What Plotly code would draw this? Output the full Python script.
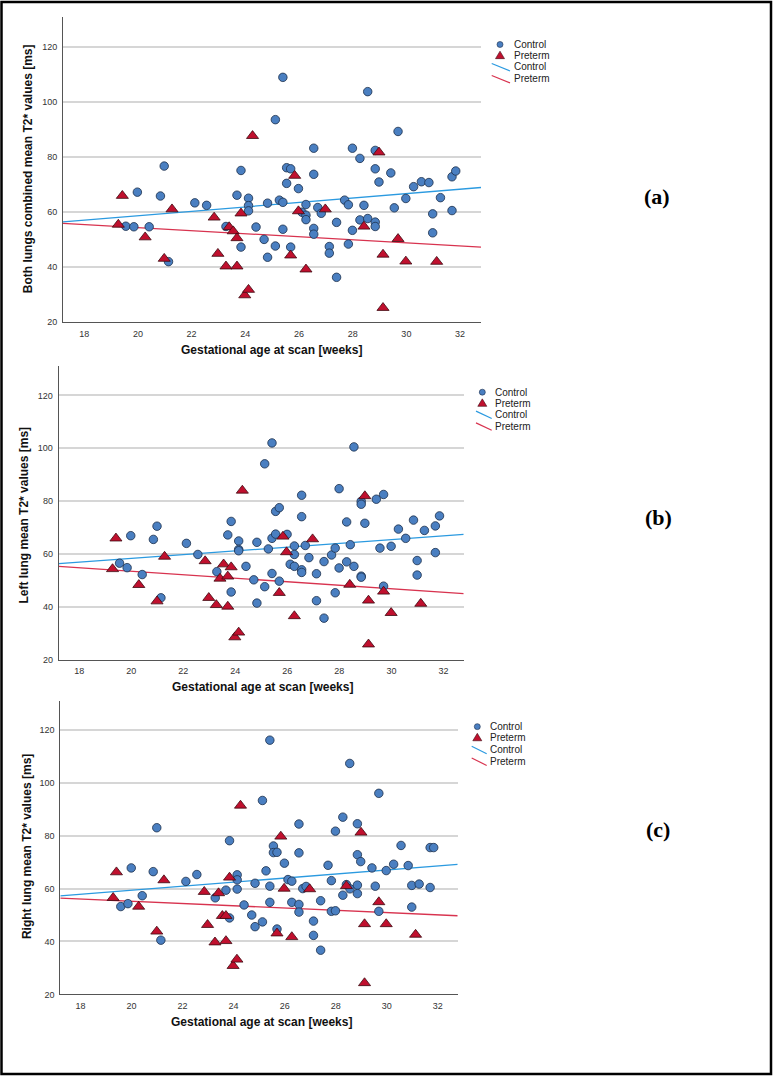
import numpy as np
import plotly.graph_objects as go

# ---------------- DATA ----------------
# Panel (a): Both lungs combined mean T2* values [ms]
ctrl_x_a = [19.55, 19.85, 19.98, 20.42, 20.84, 20.98, 21.14, 22.12, 22.56, 23.28, 23.69, 23.84, 23.84,
            24.12, 24.12, 24.12, 24.40, 24.70, 24.83, 24.83, 25.12, 25.12, 25.27, 25.40, 25.40, 25.40,
            25.54, 25.54, 25.69, 25.69, 25.98, 26.11, 26.26, 26.26, 26.26, 26.55, 26.55, 26.55, 26.55,
            26.70, 26.83, 27.13, 27.13, 27.40, 27.40, 27.70, 27.84, 27.84, 27.99, 27.99, 28.27, 28.27,
            28.42, 28.56, 28.56, 28.84, 28.84, 28.84, 28.84, 28.98, 29.42, 29.55, 29.69, 29.98, 30.27,
            30.56, 30.84, 30.98, 30.98, 31.27, 31.70, 31.70, 31.84]
ctrl_y_a = [54.8, 54.6, 67.2, 54.6, 65.8, 76.7, 41.9, 63.3, 62.4, 54.7, 66.1, 75.1, 47.2,
            65.0, 62.3, 60.4, 54.5, 50.0, 43.5, 63.2, 47.6, 93.6, 64.3, 109.0, 63.5, 53.7,
            76.1, 70.4, 75.7, 47.2, 68.5, 59.9, 62.7, 58.8, 57.2, 83.2, 73.7, 54.0, 51.9,
            61.6, 59.5, 47.4, 45.0, 56.2, 36.2, 64.3, 62.6, 48.3, 83.2, 53.3, 79.5, 57.1,
            62.4, 103.8, 57.6, 82.4, 75.7, 56.3, 54.7, 70.9, 74.2, 61.5, 89.3, 64.9, 69.2,
            71.0, 70.7, 59.3, 52.4, 65.2, 60.5, 72.8, 74.9]
pre_x_a = [19.27, 19.42, 20.27, 20.98, 21.27, 22.84, 22.98, 23.28, 23.40, 23.55, 23.69, 23.69, 23.84,
           23.98, 24.12, 24.27, 25.69, 25.84, 25.98, 26.26, 26.98, 28.42, 28.98, 29.13, 29.13, 29.69,
           29.98, 31.13]
pre_y_a = [55.4, 65.9, 50.8, 43.0, 61.0, 58.0, 44.8, 40.2, 54.5, 53.0, 50.5, 40.2, 59.5,
           29.7, 31.7, 87.7, 44.2, 73.2, 60.3, 39.1, 61.0, 54.7, 81.7, 44.5, 25.1, 50.2,
           42.0, 41.9]

# Panel (b): Left lung mean T2* values [ms]
ctrl_x_b = [19.55, 19.84, 19.98, 20.42, 20.85, 20.99, 21.14, 22.12, 22.56, 23.29, 23.71, 23.84, 23.84,
            24.13, 24.13, 24.13, 24.41, 24.71, 24.83, 24.83, 25.13, 25.13, 25.27, 25.41, 25.41, 25.41,
            25.55, 25.55, 25.69, 25.69, 25.99, 26.11, 26.27, 26.27, 26.27, 26.55, 26.55, 26.55, 26.55,
            26.69, 26.83, 27.12, 27.12, 27.41, 27.41, 27.70, 27.84, 27.84, 27.99, 27.99, 28.28, 28.28,
            28.42, 28.56, 28.56, 28.84, 28.84, 28.84, 28.84, 28.98, 29.42, 29.56, 29.70, 29.70, 29.99,
            30.27, 30.55, 30.85, 30.99, 30.99, 31.27, 31.69, 31.69, 31.85]
ctrl_y_b = [56.5, 54.8, 66.9, 52.2, 65.5, 70.5, 43.4, 64.0, 59.8, 53.3, 67.2, 72.3, 45.6,
            64.9, 61.7, 61.2, 55.3, 50.2, 41.4, 64.4, 47.6, 94.1, 61.9, 102.0, 65.9, 52.6,
            76.1, 67.5, 77.5, 49.7, 67.4, 56.1, 63.0, 59.8, 55.3, 82.2, 74.1, 54.0, 53.0,
            63.2, 58.6, 42.3, 52.5, 57.1, 35.7, 59.6, 62.2, 45.3, 84.7, 54.7, 72.1, 57.0,
            63.5, 100.5, 55.3, 79.9, 78.8, 51.6, 51.2, 71.6, 80.7, 62.2, 82.5, 47.8, 62.9,
            69.4, 65.9, 72.8, 57.5, 52.0, 68.9, 70.6, 60.5, 74.4]
pre_x_b = [19.28, 19.41, 20.29, 20.99, 21.28, 22.84, 22.98, 23.27, 23.41, 23.55, 23.71, 23.71, 23.84,
           23.98, 24.13, 24.27, 25.69, 25.83, 25.97, 26.27, 26.97, 28.40, 28.98, 29.12, 29.12, 29.70,
           29.99, 31.13]
pre_y_b = [54.3, 65.9, 48.3, 42.1, 59.0, 57.3, 43.4, 40.7, 50.7, 56.1, 51.5, 40.1, 55.0,
           28.5, 30.3, 84.0, 45.3, 66.6, 60.7, 36.5, 65.6, 48.4, 81.9, 42.4, 25.8, 45.8,
           37.7, 41.2]

# Panel (c): Right lung mean T2* values [ms]
ctrl_x_c = [19.58, 19.86, 19.99, 20.42, 20.85, 20.99, 21.15, 22.13, 22.56, 23.28, 23.70, 23.84, 23.84,
            24.14, 24.14, 24.14, 24.41, 24.71, 24.84, 24.84, 25.13, 25.13, 25.27, 25.42, 25.42, 25.42,
            25.56, 25.56, 25.70, 25.70, 25.99, 26.13, 26.28, 26.28, 26.56, 26.56, 26.56, 26.56,
            26.71, 26.84, 27.13, 27.13, 27.41, 27.41, 27.70, 27.83, 27.83, 27.99, 27.99, 28.28, 28.28,
            28.42, 28.55, 28.56, 28.85, 28.85, 28.85, 28.85, 28.98, 29.42, 29.55, 29.69, 29.69, 29.98,
            30.27, 30.56, 30.84, 30.98, 30.98, 31.27, 31.70, 31.70, 31.84]
ctrl_y_c = [53.2, 54.3, 67.8, 57.3, 66.4, 83.0, 40.5, 62.7, 65.3, 56.5, 59.4, 78.1, 48.9,
            65.2, 63.3, 59.8, 53.8, 50.0, 45.6, 62.0, 47.4, 93.3, 66.7, 116.1, 60.9, 54.8,
            76.1, 73.6, 73.7, 44.7, 69.6, 63.4, 62.8, 54.8, 84.4, 73.5, 54.0, 51.1,
            60.0, 60.8, 47.7, 42.3, 55.4, 36.7, 68.8, 63.0, 51.4, 81.7, 51.6, 87.0, 57.5,
            61.5, 107.3, 59.9, 84.5, 72.8, 61.3, 58.1, 70.2, 67.8, 60.9, 96.0, 51.4, 66.8,
            69.2, 76.3, 68.7, 61.2, 53.0, 61.7, 75.5, 60.4, 75.5]
pre_x_c = [19.28, 19.41, 20.28, 20.99, 21.27, 22.85, 22.98, 23.27, 23.41, 23.56, 23.70, 23.70, 23.84,
           23.98, 24.13, 24.27, 25.70, 25.85, 25.98, 26.28, 26.98, 28.42, 28.99, 29.13, 29.13, 29.69,
           29.98, 31.13]
pre_y_c = [56.5, 66.2, 53.2, 43.8, 63.2, 58.8, 46.3, 39.7, 58.3, 49.7, 49.7, 40.2, 64.2,
           30.8, 33.2, 91.4, 43.1, 79.7, 60.0, 41.7, 59.8, 61.0, 81.2, 46.6, 24.3, 54.9,
           46.6, 42.6]

x_tick_vals = [18, 20, 22, 24, 26, 28, 30, 32]
y_tick_vals = [20, 40, 60, 80, 100, 120]
group_names = ["Control", "Preterm"]
x_title = "Gestational age at scan [weeks]"
y_titles = ["Both lungs combined mean T2* values [ms]",
            "Left lung mean T2* values [ms]",
            "Right lung mean T2* values [ms]"]
panel_labels = ["(a)", "(b)", "(c)"]

# ---------------- STYLE / LAYOUT ----------------
W, H = 775, 1082
X_RANGE = [17.21, 32.78]
Y_RANGE = [20, 131]

CTRL_FILL = "#4A7FC1"
CTRL_EDGE = "#1C2E4A"
PRE_FILL = "#C0102E"
PRE_EDGE = "#3D0A12"
CTRL_LINE = "#2B9AE0"
PRE_LINE = "#D8334F"
FONT = "Liberation Sans"


def px(x):
    return x / W


def py(y):
    return 1 - y / H


# plot-area pixel boxes (left, right, top, bottom)
boxes = [(63, 481, 17, 323.3), (58.7, 463.7, 368, 662.7), (60.3, 457.7, 704, 999)]
ytitle_pos = [(28, 170), (24, 518), (27, 851)]
xtitle_pos = [(271, 352), (262, 690), (261, 1027)]
label_pos = [(657, 197), (658, 520), (658, 833)]
legend_pos = [(500, 511.5, [44.7, 55.7, 67.3, 79.3], 491.7, 510),
              (482.3, 493.3, [394, 405, 416.5, 428.3], 476, 491.7),
              (477.3, 487.7, [730, 741, 753.3, 765], 471.7, 486.7)]

panels = [
    (ctrl_x_a, ctrl_y_a, pre_x_a, pre_y_a),
    (ctrl_x_b, ctrl_y_b, pre_x_b, pre_y_b),
    (ctrl_x_c, ctrl_y_c, pre_x_c, pre_y_c),
]

fig = go.Figure()
layout = dict(
    width=W, height=H, margin=dict(l=0, r=0, t=0, b=0),
    paper_bgcolor="white", plot_bgcolor="white", showlegend=False,
    font=dict(family=FONT, color="#222"),
)
annotations = []
shapes = []

for i, (cx, cy, pxs, pys) in enumerate(panels):
    sfx = "" if i == 0 else str(i + 1)
    xa, ya = "x" + sfx, "y" + sfx
    l, r, t, b = boxes[i]

    # fit lines (least squares) evaluated across axis range
    for xs, ys, col in [(cx, cy, CTRL_LINE), (pxs, pys, PRE_LINE)]:
        k, c0 = np.polyfit(np.array(xs), np.array(ys), 1)
        xl = np.array(X_RANGE)
        fig.add_trace(go.Scatter(x=xl, y=k * xl + c0, mode="lines", xaxis=xa, yaxis=ya,
                                 line=dict(color=col, width=1.3), hoverinfo="skip"))

    fig.add_trace(go.Scatter(x=cx, y=cy, mode="markers", xaxis=xa, yaxis=ya, name=group_names[0],
                             marker=dict(symbol="circle", size=8.5, color=CTRL_FILL,
                                         line=dict(color=CTRL_EDGE, width=0.8))))
    fig.add_trace(go.Scatter(x=pxs, y=pys, mode="markers", xaxis=xa, yaxis=ya, name=group_names[1],
                             marker=dict(symbol="triangle-up", size=10.5, color=PRE_FILL,
                                         line=dict(color=PRE_EDGE, width=0.8))))

    layout["xaxis" + sfx] = dict(
        domain=[px(l), px(r)], anchor=ya, range=X_RANGE, tickvals=x_tick_vals,
        showgrid=False, zeroline=False, showline=True, linecolor="#555", linewidth=1,
        ticks="outside", ticklen=3, tickcolor="rgba(0,0,0,0)",
        tickfont=dict(size=9, color="#333", family=FONT),
    )
    layout["yaxis" + sfx] = dict(
        domain=[py(b), py(t)], anchor=xa, range=Y_RANGE, tickvals=y_tick_vals,
        showgrid=True, gridcolor="#D6D6D6", gridwidth=1.5, zeroline=False,
        showline=True, linecolor="#555", linewidth=1,
        ticks="outside", ticklen=3, tickcolor="rgba(0,0,0,0)",
        tickfont=dict(size=9, color="#333", family=FONT),
    )

    # axis titles
    annotations.append(dict(text="<b>" + y_titles[i] + "</b>", xref="paper", yref="paper",
                            x=px(ytitle_pos[i][0]), y=py(ytitle_pos[i][1]), textangle=-90,
                            showarrow=False, xanchor="center", yanchor="middle",
                            font=dict(size=12, color="#111", family=FONT)))
    annotations.append(dict(text="<b>" + x_title + "</b>", xref="paper", yref="paper",
                            x=px(xtitle_pos[i][0]), y=py(xtitle_pos[i][1]),
                            showarrow=False, xanchor="center", yanchor="middle",
                            font=dict(size=12, color="#111", family=FONT)))
    # panel label
    annotations.append(dict(text="<b>" + panel_labels[i] + "</b>", xref="paper", yref="paper",
                            x=px(label_pos[i][0]), y=py(label_pos[i][1]),
                            showarrow=False, xanchor="center", yanchor="middle",
                            font=dict(size=22, color="black", family="Liberation Serif")))

    # manual legend
    mx, tx, rows, lx0, lx1 = legend_pos[i]
    rc = 3.0
    shapes.append(dict(type="circle", xref="paper", yref="paper",
                       x0=px(mx - rc), x1=px(mx + rc), y0=py(rows[0] + rc), y1=py(rows[0] - rc),
                       fillcolor=CTRL_FILL, line=dict(color=CTRL_EDGE, width=0.6)))
    ty = rows[1]
    tri = "M {} {} L {} {} L {} {} Z".format(px(mx - 4.5), py(ty + 3.2), px(mx + 4.5), py(ty + 3.2),
                                            px(mx), py(ty - 4.3))
    shapes.append(dict(type="path", xref="paper", yref="paper", path=tri,
                       fillcolor=PRE_FILL, line=dict(color=PRE_EDGE, width=0.6)))
    for j, col in [(2, CTRL_LINE), (3, PRE_LINE)]:
        yy = rows[j]
        shapes.append(dict(type="line", xref="paper", yref="paper",
                           x0=px(lx0), y0=py(yy - 3.5), x1=px(lx1), y1=py(yy + 4),
                           line=dict(color=col, width=1.2)))
    for j in range(4):
        annotations.append(dict(text=group_names[j % 2], xref="paper", yref="paper",
                                x=px(tx), y=py(rows[j]), showarrow=False,
                                xanchor="left", yanchor="middle",
                                font=dict(size=10, color="#222", family=FONT)))

# outer frame
shapes.append(dict(type="rect", xref="paper", yref="paper",
                   x0=px(1.5), x1=px(771), y0=py(1079), y1=py(2),
                   line=dict(color="black", width=2.5), fillcolor="rgba(0,0,0,0)"))

layout["annotations"] = annotations
layout["shapes"] = shapes
fig.update_layout(**layout)
fig.write_html("out.html", config={"displayModeBar": False},
               post_script="document.body.style.margin='0';document.body.style.overflow='hidden';")
